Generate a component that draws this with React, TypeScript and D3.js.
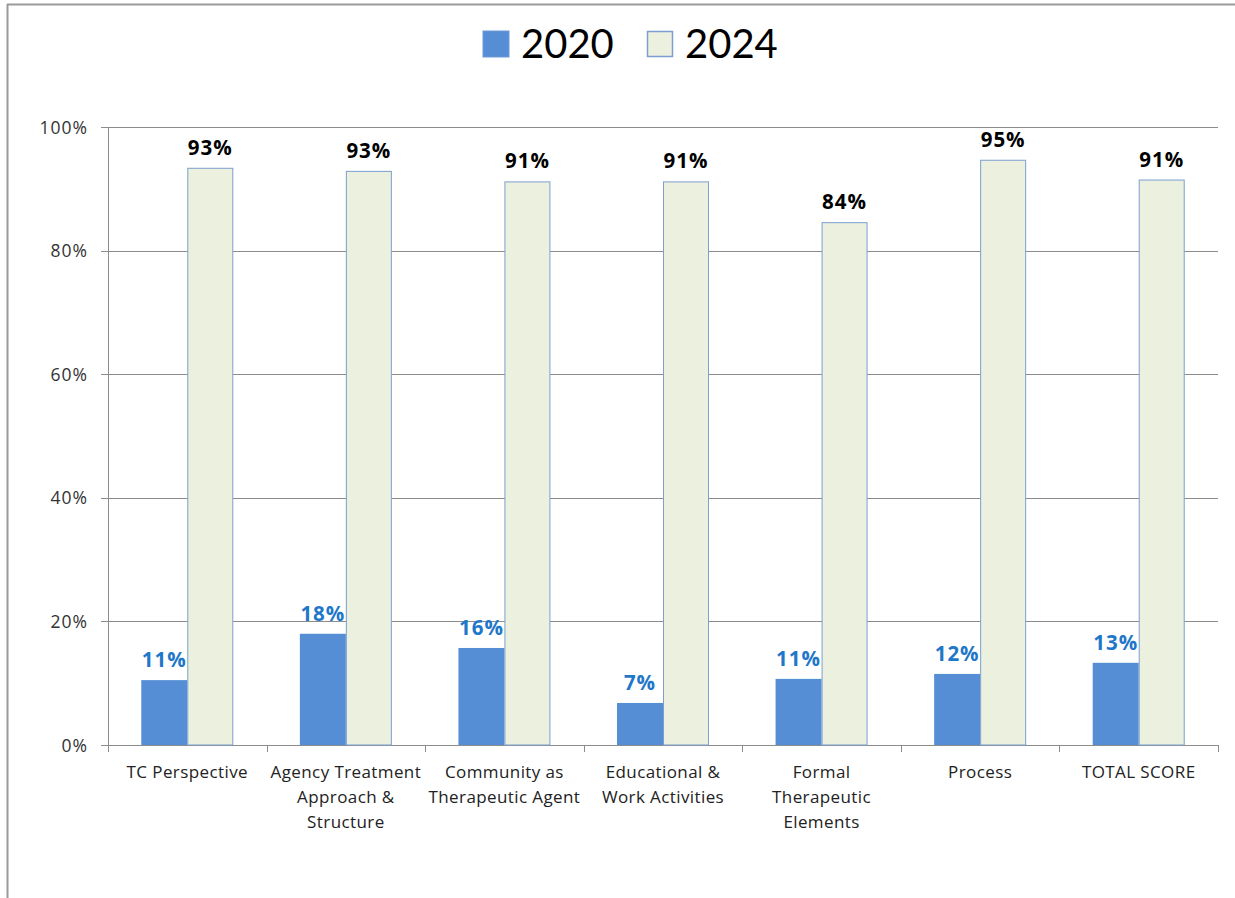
import React from "react";
import * as d3 from "d3";

const categories: string[][] = [
  ["TC Perspective"],
  ["Agency Treatment", "Approach &", "Structure"],
  ["Community as", "Therapeutic Agent"],
  ["Educational &", "Work Activities"],
  ["Formal", "Therapeutic", "Elements"],
  ["Process"],
  ["TOTAL SCORE"],
];
const values2020 = [10.5, 18.0, 15.7, 6.8, 10.7, 11.5, 13.3];
const values2024 = [93.4, 92.9, 91.2, 91.2, 84.6, 94.7, 91.5];
const labels2020 = ["11%", "18%", "16%", "7%", "11%", "12%", "13%"];
const labels2024 = ["93%", "93%", "91%", "91%", "84%", "95%", "91%"];
const yTicks = [0, 20, 40, 60, 80, 100];
const seriesNames = ["2020", "2024"];

const W = 1235;
const H = 898;
const FONT = "'Open Sans', Lato, sans-serif";
const LEGEND_FONT = "Lato, 'Open Sans', sans-serif";

export default function App() {
  const left = 108, right = 1218, top = 127, bottom = 745;
  const x = d3.scaleBand<number>().domain(d3.range(categories.length)).range([left, right]);
  const y = d3.scaleLinear().domain([0, 100]).range([bottom, top]);
  const bw = 46;
  const c1 = "#558ed5";
  const c2 = "#ebf1de";
  const c2s = "#7b9fd0";
  return (
    <svg width={W} height={H} style={{ position: "absolute", left: 0, top: 0, fontFamily: FONT }}>
      <rect x={0} y={0} width={W} height={H} fill="#fff" />
      <line x1={7.5} y1={4} x2={7.5} y2={H} stroke="#9a9a9a" strokeWidth={2} />
      <line x1={7} y1={4.5} x2={W} y2={4.5} stroke="#9a9a9a" strokeWidth={2} />
      {/* legend */}
      <rect x={483} y={31} width={26} height={26} fill={c1} stroke="#6f9ad8" strokeWidth={1} />
      <text x={521} y={58} fontSize={40} fontFamily={LEGEND_FONT} fill="#000">{seriesNames[0]}</text>
      <rect x={647.5} y={31.5} width={25} height={25} fill={c2} stroke={c2s} strokeWidth={1.5} />
      <text x={685} y={58} fontSize={40} fontFamily={LEGEND_FONT} fill="#000">{seriesNames[1]}</text>
      {/* gridlines & y ticks */}
      {yTicks.map((t) => (
        <g key={t}>
          <line x1={101} x2={right} y1={Math.round(y(t)) + 0.5} y2={Math.round(y(t)) + 0.5} stroke="#8c8c8c" strokeWidth={1} />
          <text x={88} y={y(t) + 6.5} textAnchor="end" fontSize={17.5} letterSpacing={1} fill="#333">{t}%</text>
        </g>
      ))}
      <line x1={left + 0.5} x2={left + 0.5} y1={top} y2={bottom} stroke="#8c8c8c" />
      {d3.range(categories.length + 1).map((i) => {
        const xx = Math.round(left + i * x.bandwidth()) + 0.5;
        return <line key={i} x1={xx} x2={xx} y1={bottom} y2={bottom + 7} stroke="#8c8c8c" />;
      })}
      {categories.map((lines, i) => {
        const cx = (x(i) as number) + x.bandwidth() / 2;
        return (
          <g key={i}>
            <rect x={cx - bw} y={y(values2020[i])} width={bw} height={bottom - y(values2020[i])} fill={c1} />
            <rect x={cx + 0.5} y={y(values2024[i]) + 0.5} width={bw - 1} height={bottom - y(values2024[i]) - 0.5} fill={c2} stroke={c2s} strokeWidth={1} />
            <text x={cx - bw / 2} y={y(values2020[i]) - 13} textAnchor="middle" fontSize={20.5} letterSpacing={1} fontWeight="bold" fill="#1f77c9">{labels2020[i]}</text>
            <text x={cx + bw / 2} y={y(values2024[i]) - 13} textAnchor="middle" fontSize={20.5} letterSpacing={1} fontWeight="bold" fill="#000">{labels2024[i]}</text>
            {lines.map((ln, j) => (
              <text key={j} x={cx} y={778 + j * 25} textAnchor="middle" fontSize={17} letterSpacing={0.4} fill="#222">{ln}</text>
            ))}
          </g>
        );
      })}
    </svg>
  );
}
